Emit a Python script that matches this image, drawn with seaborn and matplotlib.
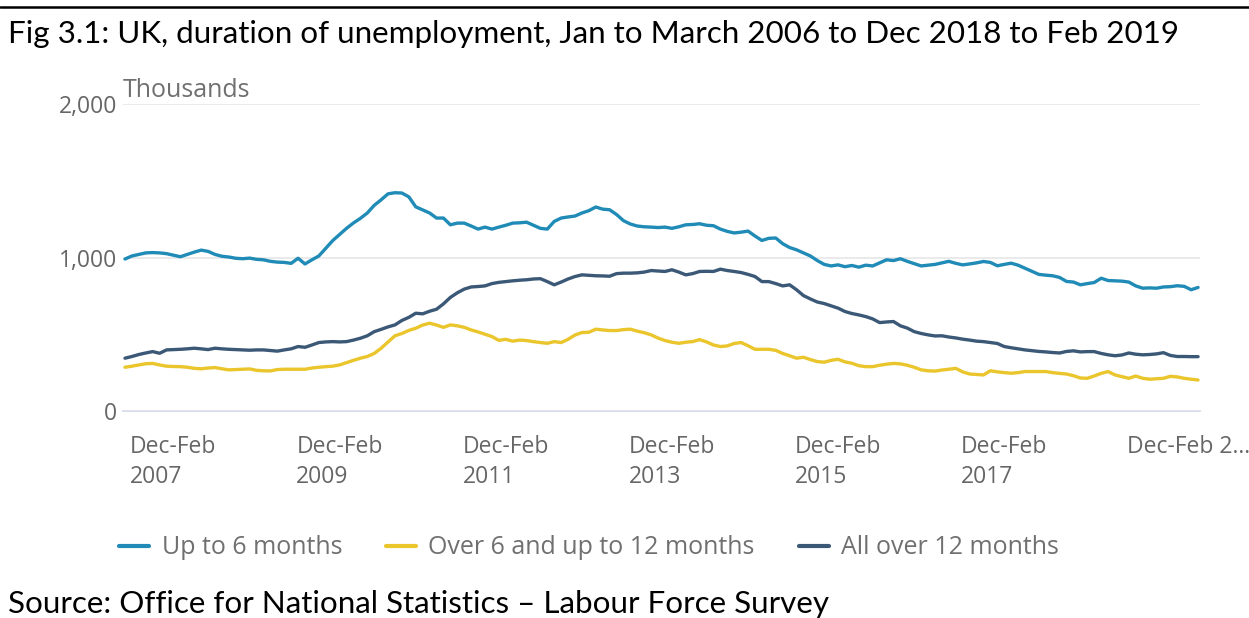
import matplotlib
matplotlib.use("Agg")
import matplotlib.pyplot as plt
import matplotlib.transforms as mtransforms
from matplotlib.lines import Line2D
import pandas as pd
import seaborn as sns

# Rolling quarters, Jan-Mar 2006 ... Dec-Feb 2019 (thousands)
periods = [str(p) for p in pd.period_range("2006-01", "2018-12", freq="M")]

up_to_6 = [
    990, 1010, 1020, 1030, 1032, 1030, 1025, 1015, 1005, 1020,
    1035, 1048, 1040, 1020, 1008, 1003, 995, 992, 996, 988,
    985, 975, 970, 968, 962, 995, 958, 985, 1010, 1060,
    1110, 1150, 1190, 1225, 1255, 1290, 1340, 1376, 1415, 1422,
    1420, 1395, 1330, 1310, 1290, 1257, 1257, 1213, 1224, 1224,
    1205, 1185, 1198, 1185, 1198, 1210, 1224, 1226, 1230, 1210,
    1190, 1185, 1235, 1257, 1264, 1270, 1290, 1305, 1329, 1315,
    1311, 1280, 1240, 1218, 1205, 1200, 1198, 1195, 1198, 1190,
    1200, 1213, 1215, 1220, 1210, 1207, 1185, 1170, 1160, 1165,
    1172, 1140, 1111, 1125, 1127, 1090, 1065, 1050, 1030, 1010,
    980, 955, 945, 952, 940, 948, 937, 950, 945, 965,
    985, 980, 992, 975, 960, 945, 950, 955, 965, 975,
    962, 952, 958, 965, 974, 968, 946, 955, 963, 950,
    930, 910, 890, 885, 881, 870, 844, 840, 822, 830,
    837, 865, 850, 848, 846, 840, 815, 800, 802, 800,
    808, 810, 816, 812, 790, 805,
]

over_6_to_12 = [
    285, 292, 300, 308, 310, 300, 292, 290, 289, 285,
    278, 275, 280, 283, 275, 268, 270, 272, 274, 265,
    262, 261, 270, 272, 272, 272, 272, 280, 285, 289,
    292, 300, 315, 330, 344, 355, 375, 409, 450, 490,
    505, 525, 539, 560, 572, 560, 545, 561, 555, 545,
    528, 515, 500, 485, 460, 467, 455, 462, 459, 452,
    446, 441, 452, 446, 467, 495, 511, 513, 533, 528,
    524, 524, 530, 533, 520, 510, 496, 475, 459, 448,
    441, 448, 452, 465, 450, 430, 420, 424, 440, 446,
    425, 402, 402, 402, 395, 375, 360, 344, 350, 335,
    322, 318, 330, 337, 320, 311, 295, 289, 289, 298,
    305, 310, 307, 298, 285, 268, 262, 260, 267, 272,
    278, 255, 241, 238, 235, 262, 255, 250, 246, 250,
    257, 257, 257, 257, 250, 245, 241, 230, 215, 213,
    228, 245, 257, 235, 224, 213, 228, 213, 207, 210,
    213, 226, 222, 213, 207, 202,
]

over_12 = [
    344, 355, 368, 378, 387, 376, 398, 400, 402, 405,
    409, 405, 400, 409, 405, 402, 400, 398, 396, 398,
    398, 394, 390, 398, 405, 420, 415, 430, 446, 450,
    452, 450, 452, 462, 474, 490, 517, 532, 548, 561,
    590, 610, 637, 633, 650, 663, 698, 740, 770, 794,
    808, 811, 815, 830, 838, 843, 848, 852, 855, 860,
    862, 843, 822, 840, 860, 876, 887, 884, 881, 880,
    878, 895, 898, 898, 900, 905, 915, 912, 909, 920,
    905, 887, 895, 909, 910, 909, 924, 915, 909, 902,
    890, 876, 843, 843, 830, 815, 822, 790, 752, 730,
    710, 700, 685, 670, 648, 635, 626, 615, 600, 576,
    580, 583, 555, 540, 517, 505, 496, 489, 490, 482,
    476, 468, 462, 455, 452, 446, 440, 420, 412, 405,
    398, 393, 388, 385, 381, 378, 388, 392, 385, 387,
    387, 375, 366, 360, 365, 378, 370, 366, 368, 372,
    380, 362, 355, 355, 354, 354,
]

series_names = ["Up to 6 months", "Over 6 and up to 12 months", "All over 12 months"]
colors = ["#1f8bb6", "#eac52c", "#3b5877"]

tick_pos = [11, 35, 59, 83, 107, 131, 155]
tick_labels = ["Dec-Feb\n2007", "Dec-Feb\n2009", "Dec-Feb\n2011", "Dec-Feb\n2013",
               "Dec-Feb\n2015", "Dec-Feb\n2017", "Dec-Feb 2..."]

# long-form table for seaborn
df = pd.DataFrame({
    "period": periods * 3,
    "idx": list(range(len(periods))) * 3,
    "value": up_to_6 + over_6_to_12 + over_12,
    "series": [s for s in series_names for _ in periods],
})

sns.set_style("white")
plt.rcParams["font.family"] = ["Open Sans", "DejaVu Sans"]

W, H = 1249, 618
fig = plt.figure(figsize=(W / 100, H / 100), dpi=100)
ax = fig.add_axes([123 / W, 1 - 411 / H, (1200 - 123) / W, (411 - 104) / H])

sns.lineplot(data=df, x="idx", y="value", hue="series", hue_order=series_names,
             palette=colors, linewidth=2.4, legend=False, ax=ax)

px = 6.923  # pixels per month
ax.set_xlim(-2 / px, (1200 - 125) / px)
ax.set_ylim(0, 2000)
ax.set_yticks([0, 1000, 2000])
ax.set_yticklabels(["0", "1,000", "2,000"])
ax.yaxis.grid(True, color="#e6e6e6", linewidth=1.2)
ax.set_axisbelow(True)
ax.set_xlabel("")
ax.set_ylabel("")
for s in ["left", "right", "top"]:
    ax.spines[s].set_visible(False)
ax.spines["bottom"].set_color("#ccd6eb")
ax.spines["bottom"].set_linewidth(1.2)
ax.spines["bottom"].set_zorder(0)
ax.tick_params(axis="y", length=0, pad=4, labelsize=16.5, labelcolor="#666666")
ax.set_xticks(tick_pos)
ax.set_xticklabels([])
ax.tick_params(axis="x", length=14, width=1.1, color="#ccd6eb", direction="out")

trans = mtransforms.blended_transform_factory(ax.transData, ax.transAxes)
for pos, lab in zip(tick_pos, tick_labels):
    ax.text(pos - 71 / px, -24 / 307, lab, transform=trans, ha="left", va="top",
            fontsize=16.5, color="#666666", linespacing=1.35)

fig.text(123 / W, 1 - 97 / H, "Thousands", fontsize=18, color="#707070",
         ha="left", va="baseline")

handles = [Line2D([0], [0], color=c, linewidth=3) for c in colors]
fig.legend(handles, series_names, loc="center", bbox_to_anchor=(589 / W, 1 - 548 / H),
           ncol=3, frameon=False, fontsize=18, labelcolor="#707070",
           handlelength=1.2, handletextpad=0.5, columnspacing=1.75)

fig.add_artist(Line2D([0, 1], [1 - 7 / H, 1 - 7 / H], color="black", linewidth=1.8,
                      transform=fig.transFigure))
fig.text(8 / W, 1 - 43 / H,
         "Fig 3.1: UK, duration of unemployment, Jan to March 2006 to Dec 2018 to Feb 2019",
         fontsize=22.6, family=["Lato", "DejaVu Sans"], color="black",
         ha="left", va="baseline")
fig.text(8 / W, 1 - 613 / H, "Source: Office for National Statistics \u2013 Labour Force Survey",
         fontsize=22.6, family=["Lato", "DejaVu Sans"], color="black",
         ha="left", va="baseline")

fig.savefig("out.png", dpi=100)
